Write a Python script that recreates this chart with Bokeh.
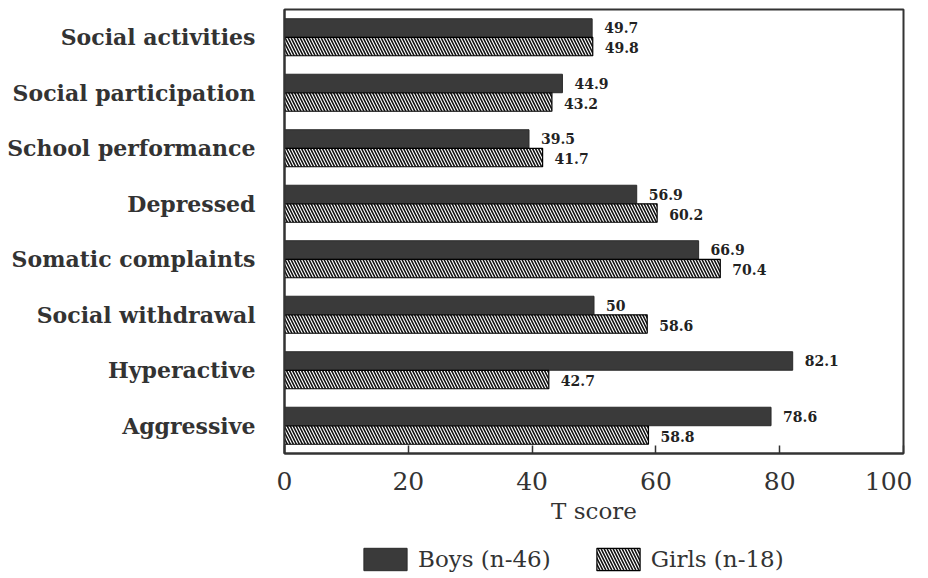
from bokeh.plotting import figure
from bokeh.models import Range1d, FactorRange, FixedTicker, Legend, LegendItem, ColumnDataSource
from bokeh.layouts import column
from bokeh.transform import dodge
from bokeh.core.properties import value
from bokeh.embed import file_html
from bokeh.resources import INLINE

categories = ["Social activities", "Social participation", "School performance", "Depressed",
              "Somatic complaints", "Social withdrawal", "Hyperactive", "Aggressive"]
boys = [49.7, 44.9, 39.5, 56.9, 66.9, 50, 82.1, 78.6]
girls = [49.8, 43.2, 41.7, 60.2, 70.4, 58.6, 42.7, 58.8]
boys_labels = ["49.7", "44.9", "39.5", "56.9", "66.9", "50", "82.1", "78.6"]
girls_labels = ["49.8", "43.2", "41.7", "60.2", "70.4", "58.6", "42.7", "58.8"]
x_ticks = [0, 20, 40, 60, 80, 100]
series_names = ["Boys (n-46)", "Girls (n-18)"]

src = ColumnDataSource(dict(cat=categories, boys=boys, girls=girls,
                            bl=boys_labels, gl=girls_labels))

FONT = "DejaVu Serif"
BOYS_STYLE = dict(fill_color="#3a3a3a", line_color="#2a2a2a", line_width=1)
GIRLS_STYLE = dict(fill_color="white", line_color="black", line_width=1.2,
                   hatch_pattern="left_diagonal_line", hatch_color="#111111",
                   hatch_scale=6, hatch_weight=1.6)

p = figure(width=912, height=527, output_backend="svg", toolbar_location=None,
           y_range=FactorRange(*list(reversed(categories))),
           x_range=Range1d(0, 100))
p.min_border_left = 284
p.min_border_right = 9
p.min_border_top = 9
p.min_border_bottom = 74

p.y_range.factor_padding = 0
p.y_range.range_padding = 0

p.hbar(y=dodge("cat", 0.167, range=p.y_range), right="boys", left=0, height=0.333,
       source=src, **BOYS_STYLE)
p.hbar(y=dodge("cat", -0.167, range=p.y_range), right="girls", left=0, height=0.333,
       source=src, **GIRLS_STYLE)

p.text(x="boys", y=dodge("cat", 0.167, range=p.y_range), text="bl", source=src,
       x_offset=12, text_baseline="middle", text_font=value(FONT),
       text_font_style="bold", text_font_size="14px", text_color="#222222")
p.text(x="girls", y=dodge("cat", -0.167, range=p.y_range), text="gl", source=src,
       x_offset=12, y_offset=1, text_baseline="middle", text_font=value(FONT),
       text_font_style="bold", text_font_size="14px", text_color="#222222")

p.grid.visible = False
p.outline_line_color = "#333333"
p.outline_line_width = 2
p.background_fill_color = "white"
p.border_fill_color = "white"

xa = p.xaxis[0]
xa.ticker = FixedTicker(ticks=x_ticks)
xa.major_tick_in = 8
xa.major_tick_out = 0
xa.minor_tick_line_color = None
xa.major_tick_line_color = "#333333"
xa.major_tick_line_width = 1.5
xa.axis_line_color = "#333333"
xa.axis_line_width = 2
xa.major_label_text_font = FONT
xa.major_label_text_font_size = "25px"
xa.major_label_text_color = "#333333"
xa.major_label_standoff = 18
xa.axis_label = "T score"
xa.axis_label_text_font = FONT
xa.axis_label_text_font_size = "23px"
xa.axis_label_text_font_style = "normal"
xa.axis_label_text_color = "#333333"
xa.axis_label_standoff = 5

ya = p.yaxis[0]
ya.major_tick_line_color = None
ya.minor_tick_line_color = None
ya.axis_line_color = "#333333"
ya.axis_line_width = 2
ya.major_label_text_font = FONT
ya.major_label_text_font_style = "bold"
ya.major_label_text_font_size = "22px"
ya.major_label_text_color = "#333333"
ya.major_label_standoff = 23

# legend strip below the chart (its frame is aligned with the chart's frame)
lg = figure(width=912, height=46, output_backend="svg", toolbar_location=None,
            x_range=Range1d(0, 1), y_range=Range1d(0, 1))
lg.min_border = 0
lg.min_border_left = 284
lg.min_border_right = 9
lg.axis.visible = False
lg.grid.visible = False
lg.outline_line_color = None
lg.background_fill_color = "white"
lg.border_fill_color = "white"
lb = lg.hbar(y=[-10], right=[-10], height=0.5, **BOYS_STYLE)
lgi = lg.hbar(y=[-10], right=[-10], height=0.5, **GIRLS_STYLE)
legend = Legend(items=[LegendItem(label=series_names[0], renderers=[lb]),
                       LegendItem(label=series_names[1], renderers=[lgi])],
                orientation="horizontal", location=(74, 0),
                glyph_width=54, glyph_height=28, label_standoff=6, spacing=40,
                padding=0, margin=0, border_line_alpha=0, background_fill_alpha=0,
                label_text_font=FONT, label_text_font_size="23px", label_text_color="#333333",
                label_height=28)
lg.add_layout(legend, "center")

layout = column(p, lg, spacing=0)
open("out.html", "w").write(file_html(layout, INLINE))
